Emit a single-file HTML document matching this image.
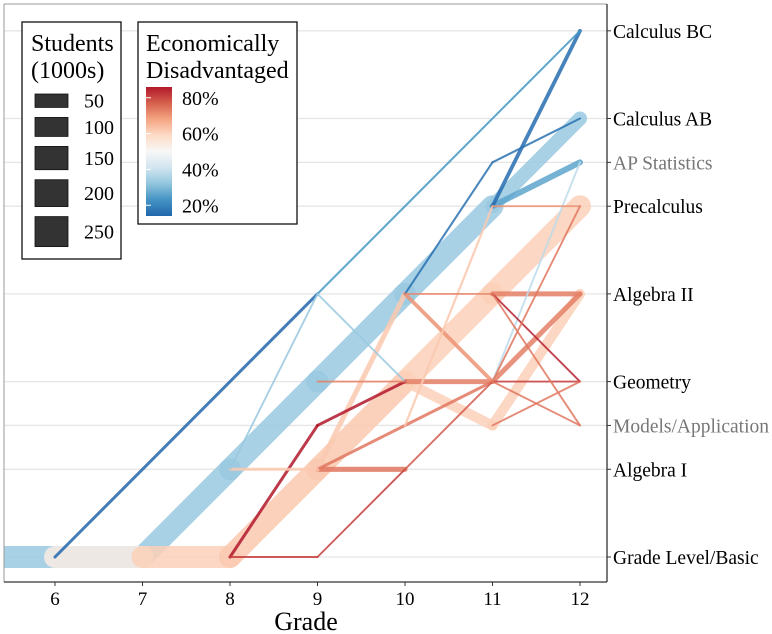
<!DOCTYPE html>
<html><head><meta charset="utf-8"><style>
body{margin:0;background:#fff}
svg{display:block;font-family:"Liberation Serif",serif}
</style></head><body>
<svg id="chart" width="772" height="634" viewBox="0 0 772 634">
<defs>
<clipPath id="clip"><rect x="4" y="4" width="603" height="578"/></clipPath>
<linearGradient id="cb" x1="0" y1="1" x2="0" y2="0">
<stop offset="0" stop-color="#2166ac"/><stop offset="0.125" stop-color="#4393c3"/><stop offset="0.25" stop-color="#92c5de"/><stop offset="0.375" stop-color="#d1e5f0"/><stop offset="0.5" stop-color="#f7f7f7"/><stop offset="0.625" stop-color="#fddbc7"/><stop offset="0.75" stop-color="#f4a582"/><stop offset="0.875" stop-color="#d6604d"/><stop offset="1" stop-color="#b2182b"/>
</linearGradient>
</defs>
<g id="grid"></g>
<g id="marks" clip-path="url(#clip)"></g>
<line x1="4" y1="4" x2="607" y2="4" stroke="#999"/>
<line x1="4" y1="4" x2="4" y2="582" stroke="#999"/>
<line x1="607" y1="4" x2="607" y2="582" stroke="#333" stroke-width="1.3"/>
<line x1="4" y1="582" x2="607" y2="582" stroke="#333" stroke-width="1.3"/>
<g id="xaxis"></g>
<g id="yaxis"></g>
<text x="306" y="630" font-size="26" text-anchor="middle">Grade</text>

<g>
<rect x="22" y="22" width="99" height="237" fill="#fff" stroke="#111" stroke-width="1.3"/>
<text x="31" y="51" font-size="24">Students</text>
<text x="31" y="78" font-size="24">(1000s)</text>
<g id="sizekeys"></g>
</g>
<g>
<rect x="138" y="22" width="159" height="202" fill="#fff" stroke="#111" stroke-width="1.3"/>
<text x="146" y="51" font-size="24">Economically</text>
<text x="146" y="78" font-size="24">Disadvantaged</text>
<rect x="146" y="87" width="26" height="129" fill="url(#cb)"/>
<g id="cbticks"></g>
</g>
</svg>
<script>
const levels = ["Grade Level/Basic","Algebra I","Models/Application","Geometry","Algebra II","Precalculus","AP Statistics","Calculus AB","Calculus BC"];
const levelRank = [0,1,1.5,2,3,4,4.5,5,6];
const levelGray = [false,false,true,false,false,false,true,false,false];
const grades = [6,7,8,9,10,11,12];
const fromGrade = [5.4,7,8,9,10,11,11,11, 6,7,8,9,10,11, 6,9,10,11, 8,9,11, 8,9, 8,9,10, 9,9,11,9,10,11,10,11,10,11,11,11,11,11,11, 10,11,9,10,8];
const fromLevel = [0,0,1,3,4,5,5,5, 0,0,0,1,3,4, 0,4,4,6, 1,4,3, 0,2, 0,0,1, 1,1,3,3,3,3,4,4,4,4,4,3,2,5,3, 3,2,1,2,1];
const toGrade   = [7,8,9,10,11,12,12,12, 7,8,9,10,11,12, 9,12,11,12, 9,10,12, 9,10, 9,10,11, 10,11,12,10,11,12,11,12,11,12,12,12,12,12,12, 11,12,10,11,9];
const toLevel   = [0,1,3,4,5,7,6,8, 0,0,1,3,4,5, 4,8,6,7, 4,3,6, 2,3, 0,1,3, 1,3,4,3,3,3,4,4,3,3,2,2,3,5,5, 2,4,4,5,1];
const students  = [134,134,134,134,134,55,10,4, 134,134,134,134,134,134, 2.5,1.2,1.2,1.2, 1,1,1, 2.5,2.5, 1,1,1, 7,2.5,7,1,7,1,1,7,4,1,1,1,1,1,1, 28,28,7,1.5,2.5];
const pctDisadv = [36,36,36,36,36,36,30,21, 53,59,60,60,59,59, 20,28,22,22, 36,36,40, 80,80, 76,76,73, 70,70,69,69,69,76,68,69,67,79,70,70,70,67,70, 59,59,60,60,60];
const sizeKeys = [50,100,150,200,250];
const pctTicks = [80,60,40,20];

const xS = g => 55 + (g-6)*87.5;
const yS = r => 557 - r*87.7;
const wS = s => 1.9*Math.sqrt(s);
const stops = ["#2166ac","#4393c3","#92c5de","#d1e5f0","#f7f7f7","#fddbc7","#f4a582","#d6604d","#b2182b"];
function hex(c){return [1,3,5].map(i=>parseInt(c.substr(i,2),16));}
function col(p){let t=Math.max(0,Math.min(1,(p-20)/60))*(stops.length-1);let i=Math.min(stops.length-2,Math.floor(t)),f=t-i;
 const a=hex(stops[i]),b=hex(stops[i+1]);return "rgb("+a.map((v,k)=>Math.round(v+(b[k]-v)*f)).join(",")+")";}
const NS="http://www.w3.org/2000/svg";
function mk(tag,attrs,parent){const e=document.createElementNS(NS,tag);for(const k in attrs)e.setAttribute(k,attrs[k]);parent.appendChild(e);return e;}

const grid=document.getElementById("grid"), yaxis=document.getElementById("yaxis");
levels.forEach((name,i)=>{
 const y=yS(levelRank[i]);
 const gl=mk("line",{x1:4,x2:607,y1:y,y2:y,stroke:"#e6e6e6","stroke-width":1.3},grid);
 
 
 const tk=mk("line",{x1:607,x2:611,y1:y,y2:y,stroke:"#333"},yaxis);
 
 
 const t=mk("text",{x:613,y:y+7,"font-size":19.5,fill:levelGray[i]?"#777":"#000"},yaxis);
 t.textContent=name;
 
 
});
const xaxis=document.getElementById("xaxis");
grades.forEach(g=>{
 const x=xS(g);
 const tk=mk("line",{x1:x,x2:x,y1:582,y2:586,stroke:"#333"},xaxis);
 
 
 const t=mk("text",{x:x,y:605,"font-size":19,"text-anchor":"middle"},xaxis);
 t.textContent=g;
 
 
});
const marks=document.getElementById("marks");
const order=students.map((s,i)=>i).sort((a,b)=>students[b]-students[a]);
order.forEach(i=>{
 const l=mk("line",{x1:xS(fromGrade[i]),y1:yS(levelRank[fromLevel[i]]),x2:xS(toGrade[i]),y2:yS(levelRank[toLevel[i]]),
  stroke:col(pctDisadv[i]),"stroke-width":wS(students[i]),"stroke-linecap":"round","stroke-opacity":0.85},marks);
 
 
});
const sk=document.getElementById("sizekeys");
let ky=94;
sizeKeys.forEach(s=>{
 const h=wS(s);
 const r=mk("rect",{x:35,y:ky,width:33,height:h,fill:"#333",stroke:"#111","stroke-width":0.8},sk);
 
 
 const t=mk("text",{x:84,y:ky+h/2+7,"font-size":20},sk);
 t.textContent=s;
 
 
 ky+=h+10;
});
const cbt=document.getElementById("cbticks");
pctTicks.forEach(p=>{
 const y=216-(p-14)/72*129;
 const t=mk("text",{x:182,y:y+7,"font-size":20},cbt);
 t.textContent=p+"%";
 
 
 const tk=mk("line",{x1:146,x2:151,y1:y,y2:y,stroke:"#fff"},cbt);
 
 
});
</script>
</body></html>
